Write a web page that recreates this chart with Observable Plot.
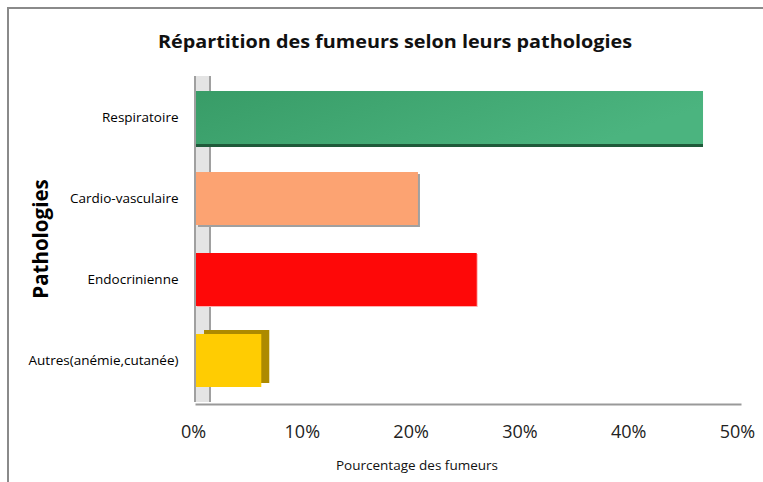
<!DOCTYPE html>
<html>
<head>
<meta charset="utf-8">
<script src="https://cdn.jsdelivr.net/npm/d3@7"></script>
<script src="https://cdn.jsdelivr.net/npm/@observablehq/plot@0.6"></script>
<style>
  html, body { margin: 0; padding: 0; background: #fff; }
  #wrap { position: relative; width: 763px; height: 482px; overflow: hidden; font-family: "Open Sans", Lato, sans-serif; }
  #border { position: absolute; left: 7px; top: 7px; width: 800px; height: 520px; border: 2px solid #8a8a8a; box-sizing: border-box; }
  #title { position: absolute; left: 0; width: 790px; top: 30px; text-align: center; font-weight: bold; font-size: 18.5px; color: #111; line-height: 22px; transform: scaleX(1.07); transform-origin: 395px 0; }
  #ylab { position: absolute; left: 40px; top: 239px; transform: translate(-50%, -50%) rotate(-90deg); font-weight: bold; font-size: 20.5px; color: #000; white-space: nowrap; }
  #xlab { position: absolute; left: 0; width: 834px; top: 456px; text-align: center; font-size: 13.5px; color: #111; }
  svg { position: absolute; left: 0; top: 0; }
</style>
</head>
<body>
<div id="wrap">
  <div id="chart"></div>
  <div id="border"></div>
  <div id="title">Répartition des fumeurs selon leurs pathologies</div>
  <div id="ylab">Pathologies</div>
  <div id="xlab">Pourcentage des fumeurs</div>
</div>
<script>
const categories = ["Respiratoire", "Cardio-vasculaire", "Endocrinienne", "Autres(anémie,cutanée)"];
const values = [46.6, 20.4, 25.8, 6.0];
const fills = ["url(#gGreen)", "#fca372", "#fe0808", "#ffcc02"];
const depthColors = ["#1f5a3a", "#a0a0a0", "#ffb0b0", "#ad8a00"];
const xTicks = [0, 10, 20, 30, 40, 50];

const data = categories.map((c, i) => ({cat: c, value: values[i], fill: fills[i], depth: depthColors[i]}));

const chart = Plot.plot({
  width: 763,
  height: 482,
  marginTop: 76,
  marginBottom: 80,
  marginLeft: 196,
  marginRight: 23,
  style: {fontFamily: "'Open Sans', Lato, sans-serif", background: "transparent"},
  x: {domain: [0, 50], ticks: xTicks, tickFormat: d => d + "%"},
  y: {domain: categories, paddingInner: 0.35, paddingOuter: 0.175},
  marks: [
    Plot.ruleX([0], {stroke: "#a0a0a0", strokeWidth: 17, dx: 6}),
    Plot.ruleX([0], {stroke: "#e4e4e4", strokeWidth: 13, dx: 6}),
    Plot.frame({anchor: "bottom", stroke: "#999", strokeWidth: 2, dy: 2}),
    Plot.barX(data.filter((d, i) => i === 0), {y: "cat", x: "value", fill: "depth", dy: 3}),
    Plot.barX(data.filter((d, i) => i === 1), {y: "cat", x: "value", fill: "depth", dx: 2, dy: 2}),
    Plot.barX(data.filter((d, i) => i === 2), {y: "cat", x: "value", fill: "depth", dx: 1, dy: 1}),
    Plot.barX(data.filter((d, i) => i === 3), {y: "cat", x: "value", fill: "depth", dx: 8, dy: -4}),
    Plot.barX(data, {y: "cat", x: "value", fill: "fill"}),
    Plot.axisY({tickSize: 0, tickPadding: 18, fontSize: 13.5, label: null, color: "#000"}),
    Plot.axisX({ticks: xTicks, tickFormat: d => d + "%", tickSize: 0, tickPadding: 23, fontSize: 18, label: null, dx: -3, color: "#222"})
  ]
});

const ns = "http://www.w3.org/2000/svg";
const defs = document.createElementNS(ns, "defs");
defs.innerHTML = `
  <linearGradient id="gGreen" x1="0" y1="0" x2="1" y2="0.3">
    <stop offset="0" stop-color="#389c67"/>
    <stop offset="1" stop-color="#4bb47f"/>
  </linearGradient>`;
chart.insertBefore(defs, chart.firstChild);
document.getElementById("chart").appendChild(chart);
</script>
</body>
</html>
